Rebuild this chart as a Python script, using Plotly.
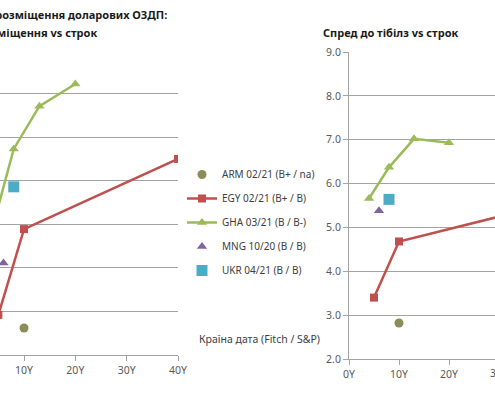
import plotly.graph_objects as go

W, H = 495, 393

# ---- data (years to maturity, yield %, spread %) ----
arm_x = [10]
arm_yield = [3.62]
arm_spread = [2.82]

egy_x = [5, 10, 40]
egy_yield = [3.92, 5.89, 7.50]
egy_spread = [3.40, 4.68, 5.53]

gha_x = [4, 8, 13, 20]
gha_yield = [5.98, 7.73, 8.71, 9.22]
gha_spread = [5.66, 6.37, 7.02, 6.93]

mng_x = [6]
mng_yield = [5.11]
mng_spread = [5.38]

ukr_x = [8]
ukr_yield = [6.86]
ukr_spread = [5.64]

names = ["ARM 02/21 (B+ / na)", "EGY 02/21 (B+ / B)", "GHA 03/21 (B / B-)",
         "MNG 10/20 (B / B)", "UKR 04/21 (B / B)"]
x_ticks = [0, 10, 20, 30, 40]
x_tick_text = ["0Y", "10Y", "20Y", "30Y", "40Y"]

title_left_1 = "Дохідність розміщення доларових ОЗДП:"
title_left_2 = "дохідність розміщення vs строк"
title_right = "Спред до тібілз vs строк"
legend_note = "Країна дата (Fitch / S&P)"

# ---- styles ----
C_ARM = "#8C8C58"
C_EGY = "#C0504D"
C_GHA = "#9BBB59"
C_MNG = "#8064A2"
C_UKR = "#4BACC6"
GRID = "#A3A3A3"
TXT = "#595959"
FONT = "Noto Sans, Open Sans, DejaVu Sans, sans-serif"

series = [
    (names[0], arm_x, arm_yield, arm_spread, C_ARM, "circle", 9, False),
    (names[1], egy_x, egy_yield, egy_spread, C_EGY, "square", 8, True),
    (names[2], gha_x, gha_yield, gha_spread, C_GHA, "triangle-up", 9, True),
    (names[3], mng_x, mng_yield, mng_spread, C_MNG, "triangle-up", 9, False),
    (names[4], ukr_x, ukr_yield, ukr_spread, C_UKR, "square", 11, False),
]

fig = go.Figure()
for i, (nm, xs, ys, ss, col, sym, sz, has_line) in enumerate(series):
    mode = "lines+markers" if has_line else "markers"
    fig.add_trace(go.Scatter(
        x=xs, y=ys, mode=mode, name=nm, xaxis="x", yaxis="y",
        line=dict(color=col, width=2.5), legendgroup=str(i),
        marker=dict(color=col, symbol=sym, size=sz, line=dict(width=0)),
        showlegend=True, hoverinfo="skip"))
    fig.add_trace(go.Scatter(
        x=xs, y=ss, mode=mode, name=nm, xaxis="x2", yaxis="y2",
        line=dict(color=col, width=2.5), legendgroup=str(i),
        marker=dict(color=col, symbol=sym, size=sz, line=dict(width=0)),
        showlegend=False, hoverinfo="skip"))

# axis geometry (pixels)
L_x0, L_x1 = 0, 178
L_y0, L_y1 = 355, 50
R_x0, R_x1 = 349, 495
R_y0, R_y1 = 359, 52
L_range = [5.32, 40]
R_range = [0, 29.2]

def px(v):
    return v / W

def py(v):
    return 1 - v / H

axis_common = dict(showline=True, linecolor=GRID, linewidth=1, ticks="outside",
                   ticklen=5, tickcolor=GRID, zeroline=False, automargin=False,
                   tickfont=dict(family=FONT, size=10.5, color=TXT))

fig.update_layout(
    width=W, height=H, margin=dict(l=0, r=0, t=0, b=0, pad=0, autoexpand=False),
    paper_bgcolor="white", plot_bgcolor="white",
    font=dict(family=FONT, color=TXT),
    xaxis=dict(domain=[px(L_x0), px(L_x1)], range=L_range, tickvals=x_ticks,
               ticktext=x_tick_text, showgrid=False, anchor="y", **axis_common),
    yaxis=dict(domain=[py(L_y0), py(L_y1)], range=[3, 10], dtick=1,
               showgrid=True, gridcolor=GRID, gridwidth=1, showline=False,
               showticklabels=False, ticks="", zeroline=False, anchor="x",
               automargin=False),
    xaxis2=dict(domain=[px(R_x0), px(R_x1)], range=R_range, tickvals=x_ticks,
                ticktext=x_tick_text, showgrid=False, anchor="y2", **axis_common),
    yaxis2=dict(domain=[py(R_y0), py(R_y1)], range=[2, 9], dtick=1, tick0=2,
                tickformat=".1f", showgrid=True, gridcolor=GRID, gridwidth=1,
                anchor="x2", **axis_common),
    legend=dict(x=px(182), y=py(160), xanchor="left", yanchor="top",
                traceorder="grouped", tracegroupgap=5, bgcolor="rgba(0,0,0,0)",
                font=dict(family=FONT, size=10, color="#404040"),
                itemclick=False, itemdoubleclick=False),
    showlegend=True,
)

# partial "30Y" tick label of right chart (beyond visible range)
d0, d1 = px(R_x0), px(R_x1)
x30 = d0 + (x_ticks[3] - R_range[0]) / (R_range[1] - R_range[0]) * (d1 - d0)
fig.add_annotation(x=x30, y=py(373), xref="paper", yref="paper", text=x_tick_text[3],
                   showarrow=False, xanchor="center", yanchor="middle",
                   font=dict(family=FONT, size=10.5, color=TXT))

title_font = dict(family=FONT, size=11, color="#1a1a1a")
fig.add_annotation(x=px(169), y=py(15), xref="paper", yref="paper",
                   text="<b>" + title_left_1 + "</b>", showarrow=False,
                   xanchor="right", yanchor="middle", font=title_font)
fig.add_annotation(x=px(99), y=py(32), xref="paper", yref="paper",
                   text="<b>" + title_left_2 + "</b>", showarrow=False,
                   xanchor="right", yanchor="middle", font=title_font)
fig.add_annotation(x=px(390), y=py(32), xref="paper", yref="paper",
                   text="<b>" + title_right + "</b>", showarrow=False,
                   xanchor="center", yanchor="middle", font=title_font)
fig.add_annotation(x=px(197), y=py(339), xref="paper", yref="paper",
                   text=legend_note, showarrow=False,
                   xanchor="left", yanchor="middle",
                   font=dict(family=FONT, size=10.5, color="#404040"))

fig.write_html("out.html",
               config={"displayModeBar": False, "staticPlot": True},
               post_script="document.body.style.margin='0';"
                           "document.body.style.overflow='hidden';")
